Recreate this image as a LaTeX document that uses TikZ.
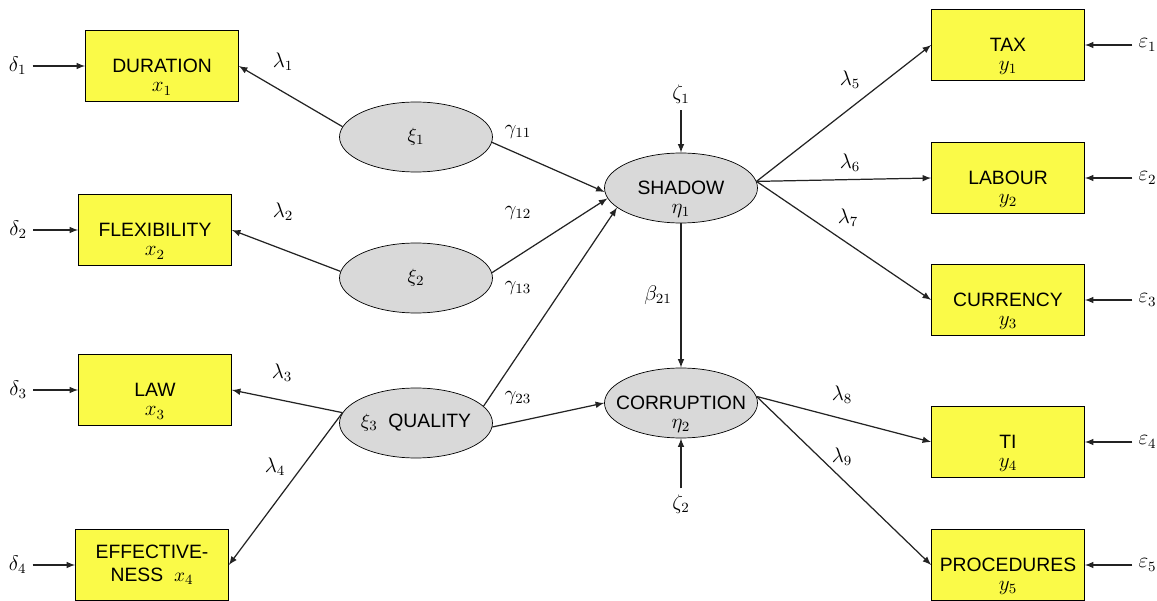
\documentclass[tikz,border=0pt]{standalone}
\usepackage{fontspec}
\usepackage{tikz}
\usetikzlibrary{positioning,calc,shapes,arrows}
\newfontfamily\arialfont{Liberation Sans}
\definecolor{boxyellow}{RGB}{250, 250, 72}
\definecolor{latgray}{RGB}{217, 217, 217}
\definecolor{linegray}{RGB}{35, 35, 35}
\newcommand{\latname}[1]{\makebox[0pt]{#1}}
\tikzstyle{observed}=[draw,fill=boxyellow,minimum width=3.06cm,minimum height=1.42cm,inner sep=0pt,align=center,font=\arialfont\fontsize{11}{13}\selectfont]
\tikzstyle{latent}=[draw,ellipse,fill=latgray,minimum width=3.06cm,minimum height=1.4cm,inner sep=0pt,font=\arialfont\fontsize{11}{13}\selectfont]
\tikzstyle{arr}=[-latex,linegray,line width=0.7pt]
\tikzstyle{coef}=[font=\fontsize{11.5}{13}\selectfont]
\tikzstyle{sub}=[coef,inner sep=0.5pt]

\begin{document}
\begin{tikzpicture}[x=0.02cm,y=-0.02cm]
      \useasboundingbox (0,0) rectangle (1157,601);

      % observed x variables
      \node (dur) at (162,66) [observed] {DURATION};
      \node (flex) at (155,230) [observed] {FLEXIBILITY};
      \node (law) at (155,390) [observed] {LAW};
      \node (eff) at (152,565) [observed] {EFFECTIVE-\\NESS\ \ $x_4$};
      \node at ($(dur.center)+(0,23)$) [sub] {$x_1$};
      \node at ($(flex.center)+(0,23)$) [sub] {$x_2$};
      \node at ($(law.center)+(0,23)$) [sub] {$x_3$};

      % latent variables
      \node (xi1) at (416,137) [latent] {$\xi_1$};
      \node (xi2) at (416,278) [latent] {$\xi_2$};
      \node (qual) at (416,423) [latent] {\latname{$\xi_3$\ \ QUALITY}};
      \node (shadow) at (681,188) [latent] {\latname{SHADOW}};
      \node (corr) at (681,403) [latent] {\latname{CORRUPTION}};
      \node at ($(shadow.center)+(0,23)$) [sub] {$\eta_1$};
      \node at ($(corr.center)+(0,23)$) [sub] {$\eta_2$};

      % observed y variables
      \node (tax) at (1008,45) [observed] {TAX};
      \node (lab) at (1008,178) [observed] {LABOUR};
      \node (cur) at (1008,300) [observed] {CURRENCY};
      \node (ti) at (1008,442) [observed] {TI};
      \node (proc) at (1008,565) [observed] {PROCEDURES};
      \node at ($(tax.center)+(0,23)$) [sub] {$y_1$};
      \node at ($(lab.center)+(0,23)$) [sub] {$y_2$};
      \node at ($(cur.center)+(0,23)$) [sub] {$y_3$};
      \node at ($(ti.center)+(0,23)$) [sub] {$y_4$};
      \node at ($(proc.center)+(0,23)$) [sub] {$y_5$};

      % errors
      \node (d1) [coef, left=1.05cm of dur] {$\delta_1$};
      \node (d2) [coef, left=0.9cm of flex] {$\delta_2$};
      \node (d3) [coef, left=0.9cm of law] {$\delta_3$};
      \node (d4) [coef, left=0.85cm of eff] {$\delta_4$};
      \node (e1) [coef, right=0.95cm of tax] {$\varepsilon_1$};
      \node (e2) [coef, right=0.95cm of lab] {$\varepsilon_2$};
      \node (e3) [coef, right=0.95cm of cur] {$\varepsilon_3$};
      \node (e4) [coef, right=0.95cm of ti] {$\varepsilon_4$};
      \node (e5) [coef, right=0.95cm of proc] {$\varepsilon_5$};
      \node (z1) [coef, above=0.85cm of shadow] {$\zeta_1$};
      \node (z2) [coef, below=1.0cm of corr] {$\zeta_2$};

      % coefficients
      \node (l1) at (283,62) [coef] {$\lambda_1$};
      \node (l2) at (283,212) [coef] {$\lambda_2$};
      \node (l3) at (282,373) [coef] {$\lambda_3$};
      \node (l4) at (275,467) [coef] {$\lambda_4$};
      \node (g11) at (518,132) [coef] {$\gamma_{11}$};
      \node (g12) at (518,213) [coef] {$\gamma_{12}$};
      \node (g13) at (518,288) [coef] {$\gamma_{13}$};
      \node (g23) at (518,398) [coef] {$\gamma_{23}$};
      \node (b21) at (658,295) [coef] {$\beta_{21}$};
      \node (l5) at (850,80) [coef] {$\lambda_5$};
      \node (l6) at (850,163) [coef] {$\lambda_6$};
      \node (l7) at (848,218) [coef] {$\lambda_7$};
      \node (l8) at (842,395) [coef] {$\lambda_8$};
      \node (l9) at (842,457) [coef] {$\lambda_9$};

      \draw[arr] (d1) -- (dur);
      \draw[arr] (d2) -- (flex);
      \draw[arr] (d3) -- (law);
      \draw[arr] (d4) -- (eff);
      \draw[arr] (e1) -- (tax);
      \draw[arr] (e2) -- (lab);
      \draw[arr] (e3) -- (cur);
      \draw[arr] (e4) -- (ti);
      \draw[arr] (e5) -- (proc);
      \draw[arr] (z1) -- (shadow.north);
      \draw[arr] (z2) -- (corr.south);

      \draw[arr] (xi1.172) -- (dur.east);
      \draw[arr] (xi2.175) -- (flex.east);
      \draw[arr] (qual.172) -- (law.east);
      \draw[arr] (qual.172) -- (eff.east);

      \draw[arr] (xi1.-4) -- (shadow.183);
      \draw[arr] (xi2.4) -- (shadow.188);
      \draw[arr] (qual.14) -- (shadow.197);
      \draw[arr] (qual.-3) -- (corr.west);
      \draw[arr] (shadow.south) -- (corr.north);

      \draw[arr] (shadow.5) -- (tax.west);
      \draw[arr] (shadow.5) -- (lab.west);
      \draw[arr] (shadow.5) -- (cur.west);
      \draw[arr] (corr.5) -- (ti.west);
      \draw[arr] (corr.5) -- (proc.west);
    \end{tikzpicture}
\end{document}
